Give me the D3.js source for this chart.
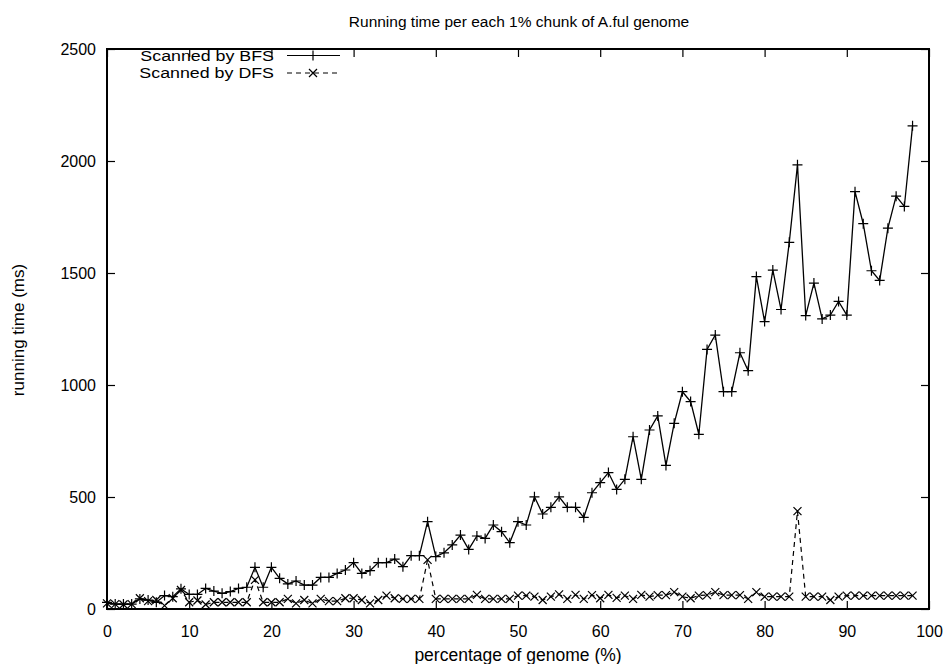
<!DOCTYPE html>
<html><head><meta charset="utf-8">
<script src="https://cdn.jsdelivr.net/npm/d3@7"></script>
<style>body{margin:0;background:#fff}svg{display:block}text{font-family:"Liberation Sans",Arial,sans-serif;fill:#000}</style>
</head><body>
<svg id="c" width="950" height="664"></svg>
<script>
const title = "Running time per each 1% chunk of A.ful genome";
const xLabel = "percentage of genome (%)";
const yLabel = "running time (ms)";
const seriesNames = ["Scanned by BFS", "Scanned by DFS"];
const xTicks = [0,10,20,30,40,50,60,70,80,90,100];
const yTicks = [0,500,1000,1500,2000,2500];
const bfs = [30,22,22,22,45,40,30,60,55,90,
  65,65,92,80,70,78,92,97,186,97,
  186,137,112,125,107,107,141,141,159,174,
  207,159,171,207,207,223,189,238,238,390,
  234,251,286,330,266,326,315,375,345,296,
  390,375,501,424,454,501,454,454,409,519,
  564,609,534,579,769,579,799,862,641,829,
  970,926,780,1159,1223,970,970,1144,1064,1484,
  1283,1513,1337,1637,1983,1310,1455,1295,1312,1373,
  1312,1863,1720,1510,1467,1700,1843,1797,2157];
const dfs = [25,22,20,22,48,35,40,15,48,85,
  30,38,20,30,30,30,30,30,130,30,
  30,30,45,25,40,25,45,35,35,48,
  48,40,25,40,60,48,45,45,45,219,
  45,45,45,45,45,63,45,45,45,45,
  60,60,55,40,55,65,45,63,45,62,
  48,63,50,60,45,63,55,62,62,75,
  55,48,60,62,75,62,62,62,45,75,
  55,55,55,55,437,55,55,55,40,55,
  60,60,60,60,60,60,60,60,60];

const svg = d3.select("#c");
const L=107, R=929, T=49, B=609;
const x = d3.scaleLinear().domain([0,100]).range([L,R]);
const y = d3.scaleLinear().domain([0,2500]).range([B,T]);

const tl = 8;
const gx = svg.append("g").attr("transform",`translate(0,${B})`)
  .call(d3.axisBottom(x).tickValues(xTicks).tickSize(-tl).tickFormat(d3.format("d")));
const gxt = svg.append("g").attr("transform",`translate(0,${T})`)
  .call(d3.axisTop(x).tickValues(xTicks).tickSize(-tl).tickFormat(""));
const gy = svg.append("g").attr("transform",`translate(${L},0)`)
  .call(d3.axisLeft(y).tickValues(yTicks).tickSize(-tl).tickFormat(d3.format("d")));
const gyr = svg.append("g").attr("transform",`translate(${R},0)`)
  .call(d3.axisRight(y).tickValues(yTicks).tickSize(-tl).tickFormat(""));
[gx,gxt,gy,gyr].forEach(g=>{
  g.select(".domain").remove();
  g.selectAll(".tick line").attr("stroke","#000").attr("stroke-width",1.2);
  g.selectAll(".tick text").attr("font-size",16).attr("font-family","Liberation Sans, Arial, sans-serif");
});
gx.selectAll(".tick text").attr("dy","0.35em").attr("y",22);
gy.selectAll(".tick text").attr("x",-11);

svg.append("rect").attr("x",L).attr("y",T).attr("width",R-L).attr("height",B-T)
  .attr("fill","none").attr("stroke","#000").attr("stroke-width",2);

const line = d3.line().x((d,i)=>x(i)).y(d=>y(d));
function plus(g, cx, cy, s){ g.append("path").attr("d",`M${cx-s},${cy}H${cx+s}M${cx},${cy-s}V${cy+s}`).attr("stroke","#000").attr("stroke-width",1.2).attr("fill","none"); }
function cross(g, cx, cy, s){ g.append("path").attr("d",`M${cx-s},${cy-s}L${cx+s},${cy+s}M${cx-s},${cy+s}L${cx+s},${cy-s}`).attr("stroke","#000").attr("stroke-width",1.2).attr("fill","none"); }

const g1 = svg.append("g");
g1.append("path").datum(bfs).attr("d",line).attr("fill","none").attr("stroke","#000").attr("stroke-width",1.3);
bfs.forEach((v,i)=>plus(g1,x(i),y(v),5));
const g2 = svg.append("g");
g2.append("path").datum(dfs).attr("d",line).attr("fill","none").attr("stroke","#000").attr("stroke-width",1.2).attr("stroke-dasharray","5,4");
dfs.forEach((v,i)=>cross(g2,x(i),y(v),4));

const lg = svg.append("g");
const ly = [55.5,73];
seriesNames.forEach((n,i)=>{
  lg.append("text").attr("transform",`translate(274,${ly[i]}) scale(1.15,1)`).attr("dy","0.35em").attr("text-anchor","end").attr("font-size",15.5).text(n);
  const p = lg.append("path").attr("d",`M287,${ly[i]}H340`).attr("stroke","#000").attr("stroke-width",1.2);
  if(i===1){ p.attr("stroke-dasharray","5,4"); cross(lg,313,ly[i],4);} else plus(lg,313,ly[i],5);
});

svg.append("text").attr("x",519).attr("y",22).attr("dy","0.35em").attr("text-anchor","middle").attr("font-size",15.5).text(title);
svg.append("text").attr("x",518).attr("y",655).attr("dy","0.35em").attr("text-anchor","middle").attr("font-size",17.5).text(xLabel);
svg.append("text").attr("transform","translate(18,330) rotate(-90)").attr("dy","0.35em").attr("text-anchor","middle").attr("font-size",17).text(yLabel);
</script>
</body></html>
